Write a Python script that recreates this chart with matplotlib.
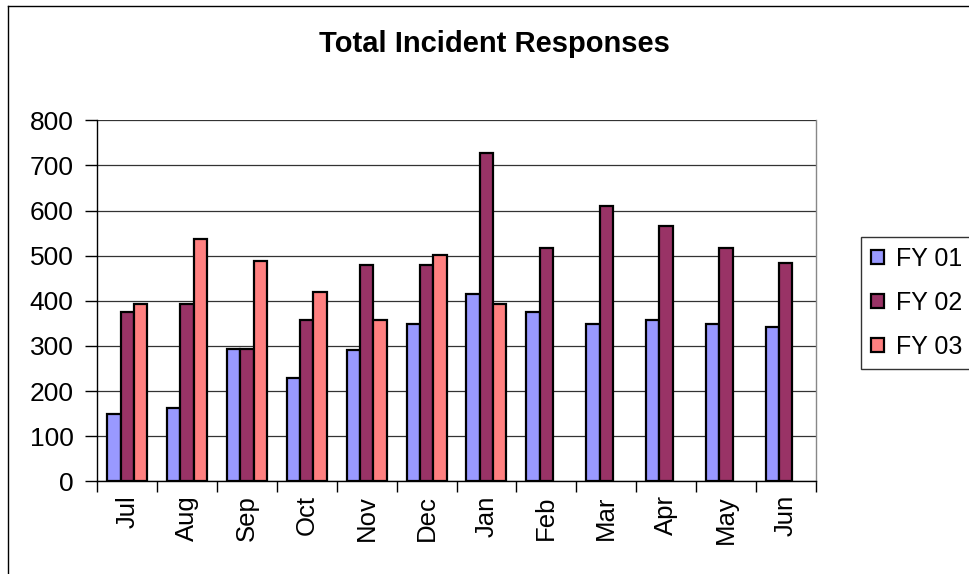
import matplotlib
matplotlib.use("Agg")
import matplotlib.pyplot as plt
from matplotlib.lines import Line2D
import numpy as np

months = ["Jul", "Aug", "Sep", "Oct", "Nov", "Dec", "Jan", "Feb", "Mar", "Apr", "May", "Jun"]
fy01 = [149, 162, 293, 230, 290, 348, 416, 375, 348, 357, 348, 343]
fy02 = [375, 394, 293, 357, 479, 479, 728, 516, 611, 565, 516, 484]
fy03 = [394, 538, 488, 420, 357, 501, 394, None, None, None, None, None]
series_names = ["FY 01", "FY 02", "FY 03"]
colors = ["#9999FF", "#993366", "#FF8080"]

plt.rcParams['font.family'] = ['Liberation Sans', 'DejaVu Sans']

fig = plt.figure(figsize=(9.69, 5.74), dpi=100)
ax = fig.add_axes([97.3/969, 1-481.3/574, (815.7-97.3)/969, (481.3-120.3)/574])

x = np.arange(len(months))
w = 1/4.5
series = [fy01, fy02, fy03]
for i, (vals, name, c) in enumerate(zip(series, series_names, colors)):
    xs = [xi + (i-1)*w for xi, v in zip(x, vals) if v is not None]
    vs = [v for v in vals if v is not None]
    ax.bar(xs, vs, width=w, color=c, edgecolor='black', linewidth=1.6,
           label=name, zorder=3)

ax.set_xlim(-0.5, len(months)-0.5)
ax.set_ylim(0, 800)
ax.set_yticks(range(0, 801, 100))
ax.yaxis.grid(True, color='#333333', linewidth=0.9, zorder=0)
ax.set_xticks(np.arange(-0.5, len(months), 1.0))
ax.set_xticklabels([])
ax.set_xticks(x, minor=True)
ax.set_xticklabels(months, minor=True, rotation=90, fontsize=18.5, va='top', ha='center')
ax.tick_params(axis='x', which='minor', length=0, pad=10)
ax.tick_params(axis='x', which='major', length=8, width=1, direction='out')
ax.tick_params(axis='y', length=9, width=1, direction='out', labelsize=19, pad=8)
for s in ['left', 'bottom']:
    ax.spines[s].set_color('black')
    ax.spines[s].set_linewidth(1.0)
ax.spines['top'].set_visible(False)
ax.spines['right'].set_color('#888888')
ax.spines['right'].set_linewidth(1.0)

fig.text(494/969, 1-44/574, "Total Incident Responses", ha='center', va='center',
         fontsize=21, fontweight='bold')

leg = fig.legend(loc='upper left', bbox_to_anchor=(861/969, 1-237/574),
                 fontsize=18, frameon=True, fancybox=False, edgecolor='black',
                 handlelength=0.5, handleheight=0.5, handletextpad=0.5,
                 labelspacing=0.8, borderpad=0.4, borderaxespad=0)
leg.get_frame().set_linewidth(1.0)

fig.add_artist(Line2D([8/969, 8/969], [0, 1-6/574], color='black', linewidth=1.0,
                      transform=fig.transFigure))
fig.add_artist(Line2D([8/969, 1], [1-6/574, 1-6/574], color='black', linewidth=1.0,
                      transform=fig.transFigure))

fig.savefig("out.png", dpi=100)
